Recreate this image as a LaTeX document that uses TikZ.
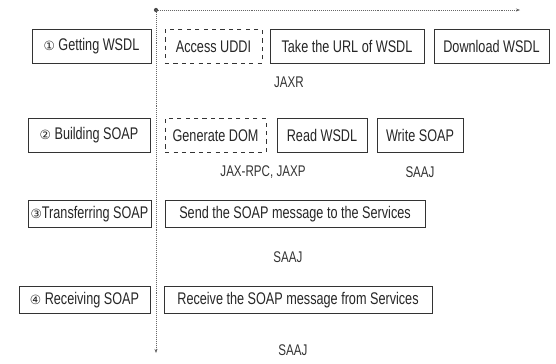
\documentclass[tikz,border=0pt]{standalone}
\usepackage{fontspec}
\setmainfont[FakeStretch=0.75]{Liberation Sans}
\newfontfamily\circfont{DejaVu Sans}
\usetikzlibrary{arrows.meta}

\begin{document}
\begin{tikzpicture}[
      x=0.025cm, y=-0.025cm,
      >={Stealth[scale=0.6]},
      font=\fontsize{12}{14}\selectfont,
      stage/.style={
        draw=black!80,
        text=black!85,
        inner sep=0pt,
        minimum height=0.85cm
      },
      task/.style={
        stage
      },
      optional/.style={
        stage,
        dashed
      },
      short/.style={
        minimum height=0.68cm
      },
      api/.style={
        text=black!80,
        inner sep=1pt,
        font=\fontsize{11}{13}\selectfont
      },
      axis/.style={
        ->,
        densely dotted,
        draw=black!60
      },
    ]

    \useasboundingbox (0,0) rectangle (556,363);

    \coordinate (origin) at (156,10);
    \coordinate (xend) at (520,10);
    \coordinate (yend) at (156,353);
    \fill [black!70] (origin) circle (1.5pt);
    \draw [axis] (origin) -- (xend);
    \draw [axis] (origin) -- (yend);

    \node [stage, minimum width=2.98cm] (getwsdl) at (91.5,46.5) {{\circfont\small ①} Getting WSDL};
    \node [optional, minimum width=2.43cm] (uddi) at (213.5,46.5) {Access UDDI};
    \node [task, minimum width=3.85cm] (takeurl) at (347,46.5) {Take the URL of WSDL};
    \node [task, minimum width=2.88cm] (download) at (491.5,46.5) {Download WSDL};
    \node [api] (jaxr) at (289,82) {JAXR};

    \node [stage, minimum width=3.05cm] (build) at (89,135.5) {{\circfont\small ②} Building SOAP};
    \node [optional, minimum width=2.52cm] (gendom) at (215.5,135.5) {Generate DOM};
    \node [task, minimum width=2.25cm] (readwsdl) at (322,135.5) {Read WSDL};
    \node [task, minimum width=2.15cm] (writesoap) at (420,135.5) {Write SOAP};
    \node [api] (jaxrpc) at (263,172) {JAX-RPC, JAXP};
    \node [api] (saajbuild) at (420,172) {SAAJ};

    \node [stage, short, minimum width=3.08cm] (transfer) at (89.5,214) {{\circfont\small ③}Transferring SOAP};
    \node [task, short, minimum width=6.5cm] (send) at (295,214) {Send the SOAP message to the Services};
    \node [api] (saajsend) at (288,257) {SAAJ};

    \node [stage, short, minimum width=3.28cm] (receiving) at (84.5,300) {{\circfont\small ④} Receiving SOAP};
    \node [task, short, minimum width=6.7cm] (receive) at (298,300) {Receive the SOAP message from Services};
    \node [api] (saajrecv) at (293,350) {SAAJ};
  \end{tikzpicture}
\end{document}
